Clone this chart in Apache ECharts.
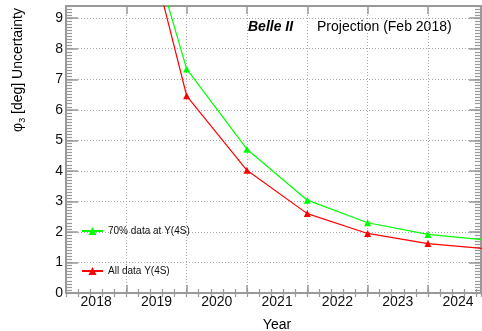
<!DOCTYPE html>
<html><head><meta charset="utf-8">
<script src="https://cdn.jsdelivr.net/npm/echarts@6/dist/echarts.min.js"></script>
<style>html,body{margin:0;padding:0;background:#fff}#c{width:482px;height:331px}</style>
</head><body><div id="c"></div>
<script>
// ---- data ----
const years = [2018.5, 2019.5, 2020.5, 2021.5, 2022.5, 2023.5, 2024.5];
const data70 = [14.1, 7.34, 4.71, 3.04, 2.30, 1.92, 1.73];
const dataAll = [14.3, 6.46, 4.02, 2.60, 1.95, 1.62, 1.44];
const seriesNames = ['70% data at Y(4S)', 'All data Y(4S)'];
const xTickLabels = [2018, 2019, 2020, 2021, 2022, 2023, 2024];
const xMajorTicks = [2017.5, 2018.5, 2019.5, 2020.5, 2021.5, 2022.5, 2023.5];
const yTickLabels = [0, 1, 2, 3, 4, 5, 6, 7, 8, 9];

const FONT = 'Liberation Sans';
const FRAME = '#999';
const X_MIN = 2017.5, X_MAX = 2024.38, Y_MIN = 0, Y_MAX = 9.4;

function mainX(pos) {
  const bottom = pos === 'bottom';
  return {
    type: 'value', position: pos, min: X_MIN, max: X_MAX, interval: 1,
    axisLine: { show: true, onZero: false, lineStyle: { color: FRAME, width: 2 } },
    axisTick: { show: true, inside: true, length: 8, customValues: xMajorTicks, lineStyle: { color: FRAME, width: 1.5 } },
    axisLabel: bottom ? { show: true, customValues: xTickLabels, formatter: v => String(v), margin: 2, color: '#111', fontSize: 14, fontFamily: FONT } : { show: false },
    splitLine: { show: bottom, lineStyle: { color: '#aaa', type: [1, 2], width: 1 } }
  };
}
function minorX(pos) {
  return {
    type: 'value', position: pos, min: X_MIN, max: X_MAX, interval: 0.2,
    axisLine: { show: false },
    axisTick: { show: true, inside: true, length: 4, lineStyle: { color: FRAME, width: 1.2 } },
    axisLabel: { show: false }, splitLine: { show: false }
  };
}
function mainY(pos) {
  const left = pos === 'left';
  return {
    type: 'value', position: pos, min: Y_MIN, max: Y_MAX, interval: 1,
    axisLine: { show: true, onZero: false, lineStyle: { color: FRAME, width: 2 } },
    axisTick: { show: true, inside: true, length: 12, customValues: yTickLabels, lineStyle: { color: FRAME, width: 1.5 } },
    axisLabel: left ? { show: true, customValues: yTickLabels, formatter: v => String(v), margin: 3, color: '#111', fontSize: 14, fontFamily: FONT } : { show: false },
    splitLine: { show: left, lineStyle: { color: '#aaa', type: [1, 2], width: 1 } }
  };
}
function minorY(pos) {
  return {
    type: 'value', position: pos, min: Y_MIN, max: Y_MAX, interval: 0.1,
    axisLine: { show: false },
    axisTick: { show: true, inside: true, length: 6, lineStyle: { color: FRAME, width: 1.2 } },
    axisLabel: { show: false }, splitLine: { show: false }
  };
}

const chart = echarts.init(document.getElementById('c'), null, { renderer: 'canvas' });
chart.setOption({
  animation: false,
  backgroundColor: '#fff',
  grid: { left: 66, top: 6, right: 1, bottom: 38 },
  xAxis: [mainX('bottom'), minorX('bottom'), mainX('top'), minorX('top')],
  yAxis: [mainY('left'), minorY('left'), mainY('right'), minorY('right')],
  legend: {
    data: seriesNames, orient: 'vertical', left: 76, top: 221,
    itemWidth: 21, itemHeight: 10, itemGap: 30,
    textStyle: { fontSize: 10, color: '#111', fontFamily: FONT }
  },
  graphic: [
    { type: 'text', x: 248, y: 27, style: { text: 'Belle II', font: 'italic bold 14px "Liberation Sans"', fill: '#000', align: 'left', verticalAlign: 'middle' } },
    { type: 'text', x: 317, y: 27, style: { text: 'Projection (Feb 2018)', font: '14px "Liberation Sans"', fill: '#000', align: 'left', verticalAlign: 'middle' } },
    { type: 'text', x: 277, y: 325, style: { text: 'Year', font: '14px "Liberation Sans"', fill: '#000', align: 'center', verticalAlign: 'middle' } },
    { type: 'text', x: 18, y: 70, rotation: Math.PI / 2, style: {
        text: '{a|φ}{s|3}{a| [deg] Uncertainty}', align: 'center', verticalAlign: 'middle',
        rich: {
          a: { fontSize: 14, fontFamily: FONT, fill: '#000', lineHeight: 18 },
          s: { fontSize: 9, fontFamily: FONT, fill: '#000', verticalAlign: 'bottom', lineHeight: 18 }
        }
    } }
  ],
  series: [
    { name: seriesNames[0], type: 'line', xAxisIndex: 0, yAxisIndex: 0,
      data: years.map((x, i) => [x, data70[i]]), symbol: 'triangle', symbolSize: 7,
      lineStyle: { color: '#00ff00', width: 1.2 }, itemStyle: { color: '#00ff00' } },
    { name: seriesNames[1], type: 'line', xAxisIndex: 0, yAxisIndex: 0,
      data: years.map((x, i) => [x, dataAll[i]]), symbol: 'triangle', symbolSize: 7,
      lineStyle: { color: '#ff0000', width: 1.2 }, itemStyle: { color: '#ff0000' } }
  ]
});
</script></body></html>
